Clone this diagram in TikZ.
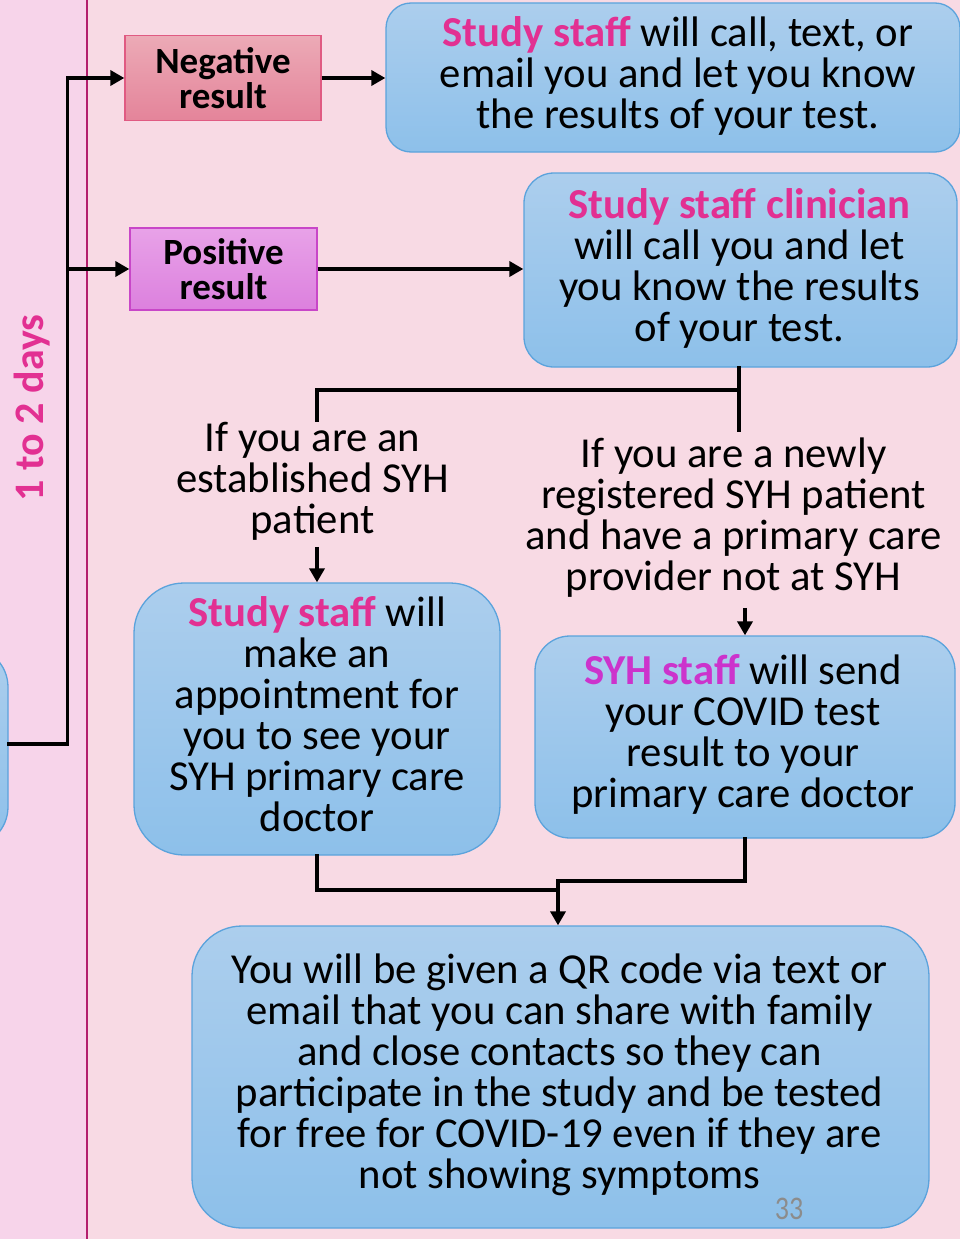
\documentclass[tikz,border=0pt]{standalone}
\usepackage{fontspec}
\setmainfont{Carlito}
\usetikzlibrary{arrows.meta,calc}

\definecolor{bgright}{RGB}{248,218,228}
\definecolor{bgleft}{RGB}{247,212,234}
\definecolor{divider}{RGB}{180,30,110}
\definecolor{hot}{RGB}{226,48,146}
\definecolor{syhpurple}{RGB}{204,51,204}
\definecolor{boxtop}{RGB}{172,206,237}
\definecolor{boxbot}{RGB}{141,192,234}
\definecolor{boxline}{RGB}{91,163,220}
\definecolor{negtop}{RGB}{236,170,182}
\definecolor{negbot}{RGB}{228,132,154}
\definecolor{negline}{RGB}{224,90,130}
\definecolor{postop}{RGB}{232,162,232}
\definecolor{posbot}{RGB}{220,128,222}
\definecolor{posline}{RGB}{200,70,200}
\definecolor{pagegray}{RGB}{140,140,140}

\newcommand\bodyfont{\fontsize{42.7}{41}\selectfont}
\newcommand\hot[1]{\textbf{\textcolor{hot}{#1}}}

\tikzset{
  bluebox/.style={draw=boxline, line width=1.3pt, top color=boxtop,
    bottom color=boxbot, rounded corners=#1, inner sep=0pt},
  boxtext/.style={align=center, font=\bodyfont, inner sep=0pt},
  resultbox/.style={draw=#1line, line width=1.3pt, top color=#1top,
    bottom color=#1bot, align=center, inner sep=0pt,
    font=\fontsize{37}{35}\selectfont\bfseries},
  flow/.style={line width=3.8pt, line cap=rect},
  flowarrow/.style={line width=3.8pt, -{Triangle[length=14pt,width=15pt]}},
}

\begin{document}
\begin{tikzpicture}[x=1pt,y=-1pt]
\useasboundingbox (0,0) rectangle (960,1239);
\clip (0,0) rectangle (960,1239);

% page background: narrow timeline strip and main area
\fill[bgright] (0,0) rectangle (960,1239);
\fill[bgleft] (0,0) rectangle (87,1239);
\draw[divider, line width=2.7pt] (87,0) -- (87,1239);

% timeline label
\node[rotate=90, anchor=base, text=hot,
      font=\fontsize{42}{42}\selectfont\bfseries] (days) at (43,408) {1 to 2 days};

% previous step (only its right edge is in view)
\node[bluebox=40pt, minimum width=260pt, minimum height=200pt] (prev) at (-122,747) {};

% result boxes
\node[resultbox=neg, minimum width=196pt, minimum height=85pt] (neg) at (223,78) {Negative\\result};
\node[resultbox=pos, minimum width=187pt, minimum height=82pt] (pos) at (223.5,269) {Positive\\result};

% outcome boxes
\node[bluebox=25pt, minimum width=574pt, minimum height=149pt] (negmsg) at (673,77.5) {};
\node[boxtext] (negmsgT) at ($(negmsg.center)+(5,-2)$)
  {\hot{Study staff} will call, text, or\\email you and let you know\\the results of your test.};

\node[bluebox=30pt, minimum width=433pt, minimum height=194pt] (posmsg) at (740.5,270) {};
\node[boxtext] (posmsgT) at ($(posmsg.center)+(-1,-2)$)
  {\hot{Study staff clinician}\\will call you and let\\you know the results\\of your test.};

\node[boxtext, inner sep=3pt] (condL) at (312.5,481.5)
  {If you are an\\established SYH\\patient};
\node[boxtext, inner sep=0pt] (condR) at (733.5,518)
  {If you are a newly\\registered SYH patient\\and have a primary care\\provider not at SYH};

\node[bluebox=50pt, minimum width=366pt, minimum height=272pt] (appt) at (317,719) {};
\node[boxtext] (apptT) at ($(appt.center)+(0,-4.5)$)
  {\hot{Study staff} will\\make an\\appointment for\\you to see your\\SYH primary care\\doctor};

\node[bluebox=35pt, minimum width=420pt, minimum height=202pt] (send) at (745,737) {};
\node[boxtext] (sendT) at ($(send.center)+(-2,-2.5)$)
  {\textbf{\textcolor{syhpurple}{SYH staff}} will send\\your COVID test\\result to your\\primary care doctor};

\node[bluebox=50pt, minimum width=737pt, minimum height=302pt] (qr) at (560.5,1077) {};
\node[boxtext] (qrT) at ($(qr.center)+(-1,-2)$)
  {You will be given a QR code via text or\\email that you can share with family\\and close contacts so they can\\participate in the study and be tested\\for free for COVID-19 even if they are\\not showing symptoms};

\node[text=pagegray, font=\fontsize{33}{33}\selectfont, inner sep=0pt] (pagenum) at (789,1209)
  {\scalebox{0.85}[1]{33}};

% connectors
\coordinate (bus) at (67.5,744);
\draw[flow] (prev.east |- bus) -- (bus) -- (bus |- neg.west);
\draw[flowarrow] (bus |- neg.west) -- (neg.west);
\draw[flowarrow] (bus |- pos.west) -- (pos.west);
\draw[flowarrow] (neg.east) -- (neg.east -| negmsg.west);
\draw[flowarrow] (pos.east) -- (pos.east -| posmsg.west);

\coordinate (split) at (739,390);
\draw[flow] (split |- posmsg.south) -- (739,430);
\draw[flow] (split) -| (317,420);
\draw[flowarrow] ($(condL.south -| appt.north)+(0,3)$) -- (appt.north);
\draw[flowarrow] ($(condR.south -| send.north)+(0,10)$) -- (send.north);

\coordinate (joinL) at (558,890);
\coordinate (joinR) at (558,881);
\draw[flow] (appt.south) |- (joinL);
\draw[flow] (send.south) |- (joinR);
\draw[flowarrow] (joinR) -- (joinR |- qr.north);
\end{tikzpicture}
\end{document}
